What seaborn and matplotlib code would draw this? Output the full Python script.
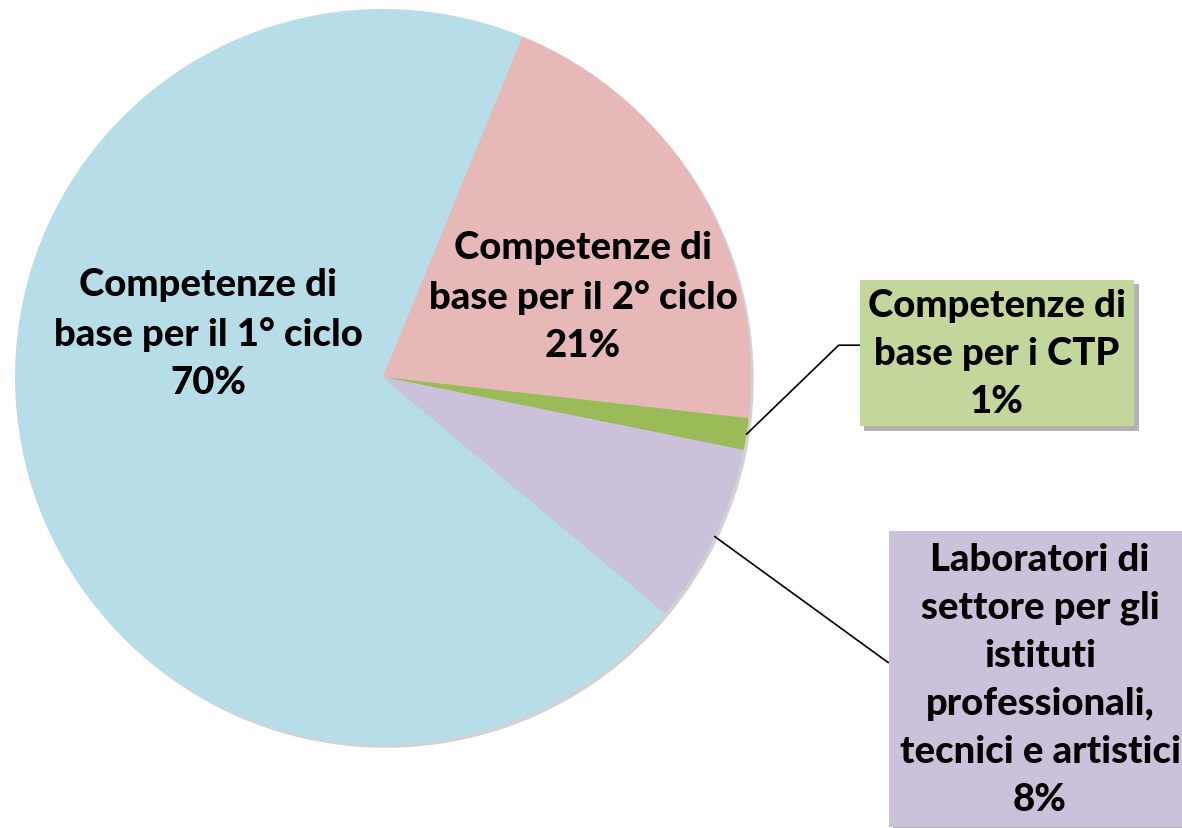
import numpy as np
import matplotlib
matplotlib.use("Agg")
import matplotlib.pyplot as plt
import matplotlib.patheffects as pe
import seaborn as sns

# values (share of total, %)
categories = [
    "Competenze di\nbase per il 1° ciclo",
    "Competenze di\nbase per il 2° ciclo",
    "Competenze di\nbase per i CTP",
    "Laboratori di\nsettore per gli\nistituti\nprofessionali,\ntecnici e artistici",
]
shares = [70.1, 20.6, 1.4, 7.9]
slice_colors = ["#B7DEE8", "#E6B9B8", "#9BBB59", "#CCC1DA"]
box_colors = [None, None, "#C3D69B", "#CCC1DA"]

sns.set_theme(style="white")
plt.rcParams["font.family"] = ["Lato", "DejaVu Sans"]

W, H = 1182, 829
fig = plt.figure(figsize=(W / 100, H / 100), dpi=100)
ax = fig.add_axes([0, 0, 1, 1])

cx, cy, r = 383, H - 378, 368
wedges, _ = ax.pie(
    shares, colors=slice_colors, startangle=-39.9, counterclock=False,
    center=(cx, cy), radius=r, frame=True,
    wedgeprops=dict(linewidth=0,
                    path_effects=[pe.SimplePatchShadow(offset=(2, -2), alpha=0.35, shadow_rgbFace="#7f7f7f"),
                                  pe.Normal()]),
)
ax.set_xlim(0, W)
ax.set_ylim(0, H)
ax.set_aspect("equal")
ax.axis("off")

fs = 27.5
ls = 1.5
fw = 900
labels = [f"{c}\n{round(s)}%" for c, s in zip(categories, shares)]

# inside labels
ax.text(208, H - 334, labels[0], ha="center", va="center", fontsize=fs,
        fontweight=fw, linespacing=ls, color="black")
ax.text(583, H - 297, labels[1], ha="center", va="center", fontsize=fs,
        fontweight=fw, linespacing=ls, color="black")

# outside labels with leader lines
def edge_point(w):
    mid = np.deg2rad((w.theta1 + w.theta2) / 2)
    return cx + r * np.cos(mid), cy + r * np.sin(mid)

box_shadow = [pe.SimplePatchShadow(offset=(3, -3), alpha=0.45, shadow_rgbFace="#555555"), pe.Normal()]

for i, (txt_xy, relpos, angB, pad) in zip(
        [2, 3],
        [((997, H - 354), (0, 0.56), 44, 0.22), ((1040, H - 680), (0, 0.56), -36, 0.28)]):
    ann = ax.annotate(
        labels[i], xy=edge_point(wedges[i]), xytext=txt_xy,
        ha="center", va="center", fontsize=fs, fontweight=fw,
        linespacing=ls, color="black",
        bbox=dict(boxstyle=f"square,pad={pad}", fc=box_colors[i], ec="none"),
        arrowprops=dict(arrowstyle="-", color="black", lw=1.2, relpos=relpos,
                        shrinkA=0, shrinkB=0,
                        connectionstyle=f"angle,angleA=180,angleB={angB},rad=0"),
    )
    ann.get_bbox_patch().set_path_effects(box_shadow)

fig.savefig("out.png", dpi=100, facecolor="white")
